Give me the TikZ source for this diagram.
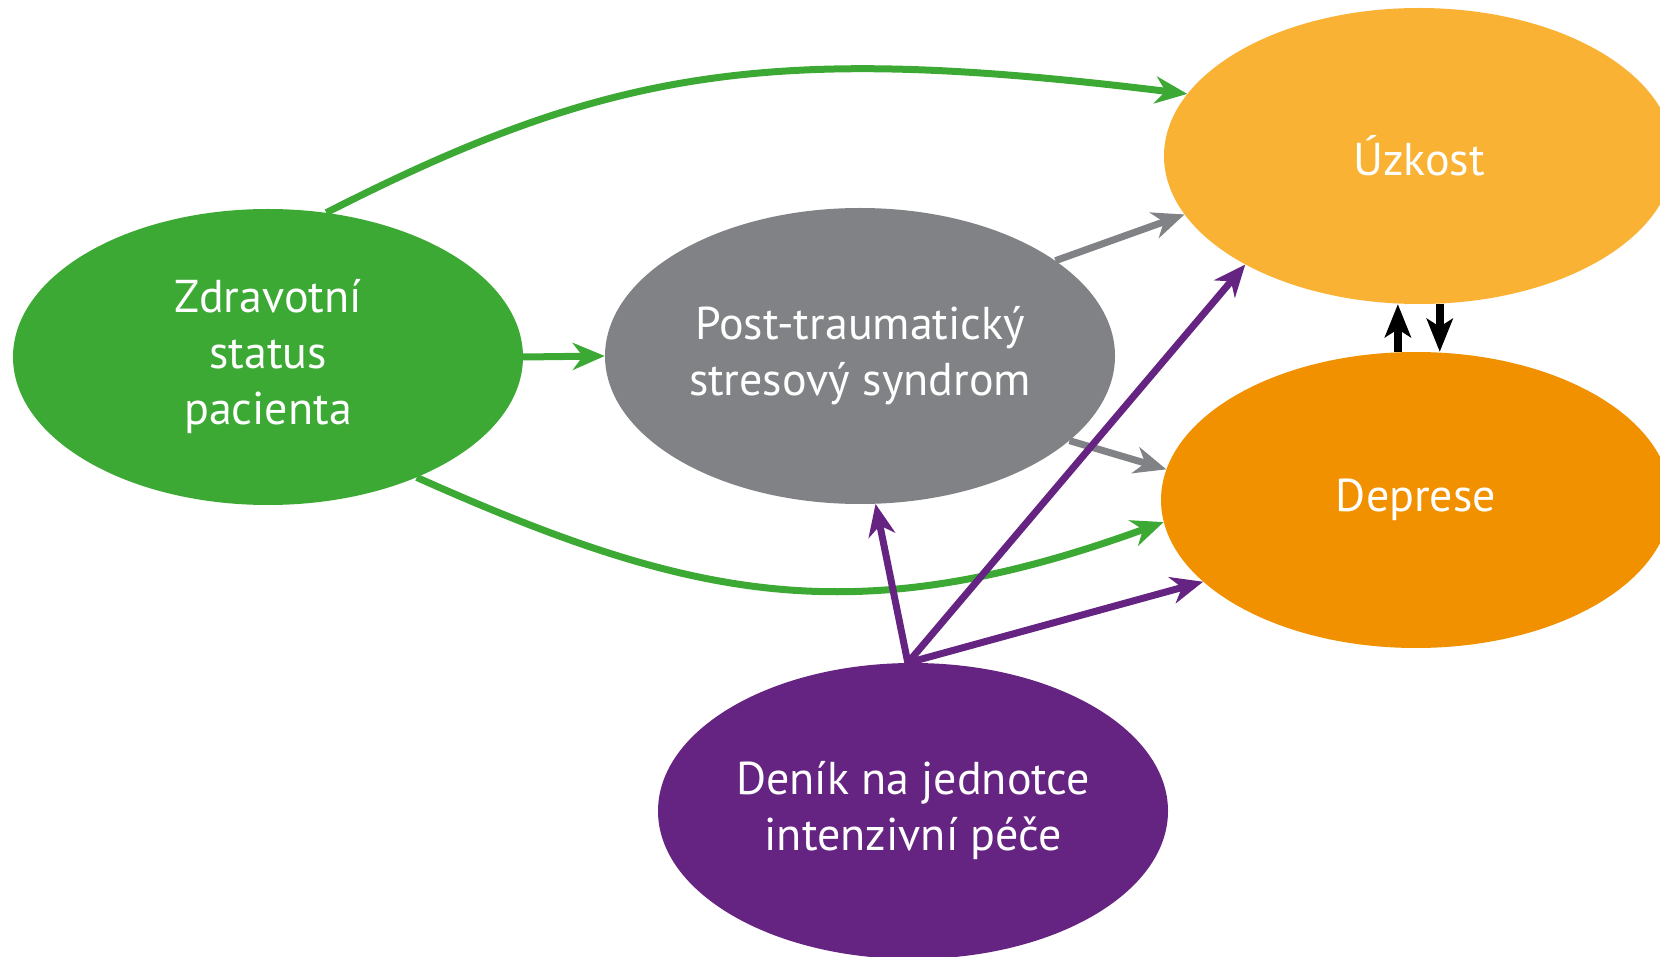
\documentclass[tikz,border=0pt]{standalone}
\usepackage{fontspec}
\setmainfont{PT Sans}
\usetikzlibrary{shapes.geometric,arrows.meta,calc}
\definecolor{cgreen}{RGB}{61,169,53}
\definecolor{cgray}{RGB}{128,130,133}
\definecolor{corl}{RGB}{249,178,52}
\definecolor{cord}{RGB}{242,145,0}
\definecolor{cpur}{RGB}{102,36,130}
\begin{document}
\begin{tikzpicture}[x=1pt,y=1pt,
  blob/.style={ellipse, minimum width=510pt, minimum height=296pt, inner sep=0pt,
    text=white, align=center, font=\fontsize{46}{56}\selectfont},
  conn/.style={line width=7pt, -{Stealth[length=32pt,width=27pt,inset=10pt]}},
  dconn/.style={line width=7.5pt, -{Stealth[length=33pt,width=26pt,inset=8pt]}},
]
\useasboundingbox (0,0) rectangle (1660,-957);
\node[blob, fill=cgreen] (zs) at (268,-357) {Zdravotní\\status\\pacienta};
\node[blob, fill=cgray] (ptsd) at (860,-356) {Post-traumatický\\stresový syndrom};
\node[blob, fill=corl] (uz) at (1419,-156) {Úzkost};
\node[blob, fill=cord] (dep) at (1416,-500) {Deprese};
\node[blob, fill=cpur] (den) at (913,-811) {Deník na jednotce\\intenzivní péče};

\draw[conn, cgreen] (zs.68) .. controls +(27:320) and +(173:420) .. (uz.165);
\draw[conn, cgreen] (zs.east) -- (ptsd.west);
\draw[conn, cgreen] (zs.-39) .. controls +(-24:300) and +(200:330) .. (dep.185);

\draw[conn, cgray] (ptsd.26) -- (uz.194);
\draw[conn, cgray] (ptsd.-22) -- (dep.173);

\draw[conn, cpur] (den.92) -- (ptsd.276);
\draw[conn, cpur] (den.92) -- (uz.212);
\draw[conn, cpur] (den.92) -- (dep.201);

\draw[dconn, black] (dep.97) -- (dep.97 |- uz.south);
\draw[dconn, black] (uz.278) -- (uz.278 |- dep.north);
\end{tikzpicture}
\end{document}
